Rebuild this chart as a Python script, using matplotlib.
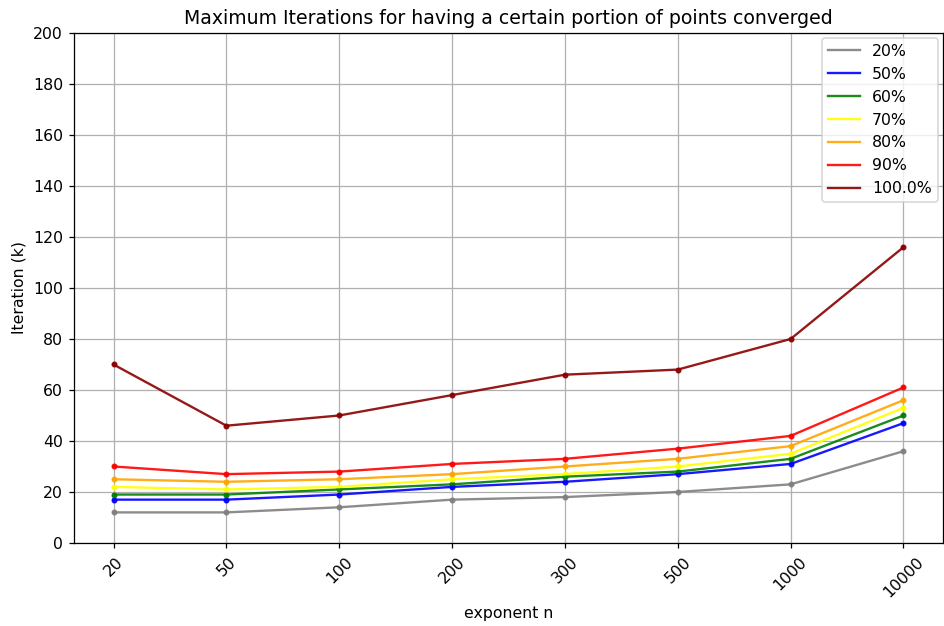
import matplotlib

matplotlib.use("Agg")

import matplotlib.pyplot as plt

exponents = ["20", "50", "100", "200", "300", "500", "1000", "10000"]

labels = ["20%", "50%", "60%", "70%", "80%", "90%", "100.0%"]
colors = ["gray", "blue", "green", "yellow", "orange", "red", "darkred"]

iter_20 = [12, 12, 14, 17, 18, 20, 23, 36]
iter_50 = [17, 17, 19, 22, 24, 27, 31, 47]
iter_60 = [19, 19, 21, 23, 26, 28, 33, 50]
iter_70 = [22, 21, 22, 25, 27, 30, 35, 53]
iter_80 = [25, 24, 25, 27, 30, 33, 38, 56]
iter_90 = [30, 27, 28, 31, 33, 37, 42, 61]
iter_100 = [70, 46, 50, 58, 66, 68, 80, 116]

series = [iter_20, iter_50, iter_60, iter_70, iter_80, iter_90, iter_100]

# original looks rendered ~1.13x larger, so bump dpi and shrink the inches
dpi = 113
fig = plt.figure(figsize=(944 / dpi, 626 / dpi), dpi=dpi)
ax = fig.add_axes([0.0784, 0.1326, 0.9205, 0.8147])

for vals, lab, col in zip(series, labels, colors):
    ax.plot(exponents, vals, color=col, label=lab, alpha=0.9)
    ax.scatter(exponents, vals, color=col, s=8, alpha=0.9)

ax.set_ylim(0, 200)
ax.set_yticks(range(0, 201, 20))
ax.grid(True)
ax.set_axisbelow(True)
plt.setp(ax.get_xticklabels(), rotation=45)

ax.set_title("Maximum Iterations for having a certain portion of points converged")
ax.set_xlabel("exponent n")
ax.set_ylabel("Iteration (k)")
ax.legend(loc="upper right", borderaxespad=0.3)

fig.savefig("out.png", dpi=dpi)
